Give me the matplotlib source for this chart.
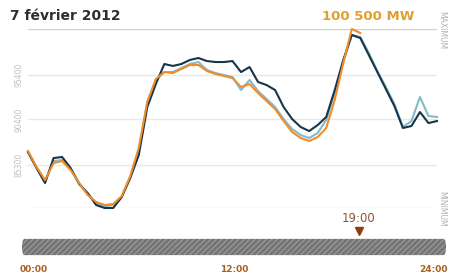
import numpy as np
import matplotlib
matplotlib.use("Agg")
import matplotlib.pyplot as plt
from matplotlib.patches import FancyBboxPatch

# demi-heures de 00:00 a 24:00
heures = np.arange(0, 24.5, 0.5)

# consommation realisee (MW)
realisee = [86750, 84970, 83290, 86080, 86200, 84970, 83180, 82170, 80830, 80500,
            80500, 81720, 83850, 86420, 91780, 94350, 96590, 96370, 96590, 97040,
            97260, 96920, 96810, 96810, 96920, 95690, 96250, 94580, 94240, 93680,
            91780, 90440, 89550, 89100, 89770, 90670, 93680, 97040, 99830, 99490,
            97590, 95690, 93790, 91890, 89440, 89660, 91220, 89990, 90220]

# prevision de la veille (MW)
prevision_j1 = [86750, 85080, 83510, 85750, 85860, 84860, 83290, 82060, 81050, 80720,
                80830, 81830, 83960, 86980, 92340, 94800, 95690, 95690, 96140, 96590,
                96810, 95920, 95580, 95360, 95140, 93680, 94800, 93570, 92680, 91780,
                90440, 89320, 88650, 88320, 88880, 90330, 93350, 96810, 99830, 99610,
                97820, 95810, 94020, 92120, 89550, 90220, 92900, 90780, 90670]

# prevision du jour (MW), jusqu'a 19:30
prevision_j = [86870, 85080, 83620, 85520, 85750, 84740, 83290, 81950, 81170, 80830,
               80940, 81830, 84070, 87200, 92340, 94910, 95690, 95580, 96030, 96480,
               96480, 95810, 95470, 95250, 95020, 94020, 94350, 93350, 92450, 91560,
               90220, 88990, 88320, 87980, 88430, 89440, 92570, 96700, 100500, 100050]

grille = [80500, 85300, 90400, 95400]
graduations = [85300, 90400, 95400]
maximum = 100500
minimum = 80500
heure_courante = 19
labels_x = ["00:00", "12:00", "24:00"]

W, H = 451, 275
fig = plt.figure(figsize=(W / 100, H / 100), dpi=100)
fig.patch.set_facecolor("white")

# zone de la courbe
ax = fig.add_axes([28 / W, 1 - 208 / H, 409 / W, 179 / H])
ax.set_xlim(0, 24)
ax.set_ylim(minimum, maximum)
ax.axis("off")

for v in grille:
    ax.axhline(v, color="#e8e8e8", lw=1, zorder=0)
ax.axhline(maximum, color="#d2d2d2", lw=1, zorder=0)

ax.plot(heures, prevision_j1, color="#86bacb", lw=1.5, zorder=2, clip_on=False)
ax.plot(heures, realisee, color="#16354a", lw=1.5, zorder=3, clip_on=False)
ax.plot(heures[:len(prevision_j)], prevision_j, color="#f08d2a", lw=1.5, zorder=4,
        clip_on=False)

for v in graduations:
    ax.text(-0.55, v, f"{v}", rotation=90, ha="center", va="center",
            fontsize=5.5, color="#bdbdbd", clip_on=False)

# titre et valeur max
fig.text(10 / W, 1 - 16 / H, "7 février 2012", fontsize=10, fontweight="bold",
         color="#2e2e2e", ha="left", va="center")
fig.text(414 / W, 1 - 16 / H, f"{maximum:,} MW".replace(",", " "), fontsize=9.5,
         fontweight="bold", color="#e0a02e", ha="right", va="center")
fig.text(442 / W, 1 - 30 / H, "MAXIMUM", rotation=270, fontsize=5.5,
         color="#b0b0b0", ha="center", va="center")
fig.text(442 / W, 1 - 209 / H, "MINIMUM", rotation=270, fontsize=5.5,
         color="#b0b0b0", ha="center", va="center")

# barre de temps
plt.rcParams["hatch.linewidth"] = 0.6
tax = fig.add_axes([20 / W, 1 - 256 / H, 428 / W, 18 / H])
tax.set_xlim(0, 24)
tax.set_ylim(0, 1)
tax.axis("off")
barre = FancyBboxPatch((0.1, 0.05), 23.8, 0.9, boxstyle="round,pad=0,rounding_size=0.15",
                       facecolor="#757575", edgecolor="#a8a8a8", hatch="//////",
                       lw=0, mutation_aspect=4, clip_on=False)
tax.add_patch(barre)

tax.plot([heure_courante], [1.4], marker="v", color="#8e3d12", markersize=6,
         clip_on=False)
tax.text(heure_courante, 2.1, "19:00", fontsize=8.5, color="#8a5535",
         ha="center", va="center", clip_on=False)

for pos, lab, al in zip([0, 12, 24], labels_x, ["left", "center", "right"]):
    tax.text(pos, -0.75, lab, fontsize=6.5, fontweight="bold", color="#a8611f",
             ha=al, va="center", clip_on=False)

fig.savefig("out.png", dpi=100)
